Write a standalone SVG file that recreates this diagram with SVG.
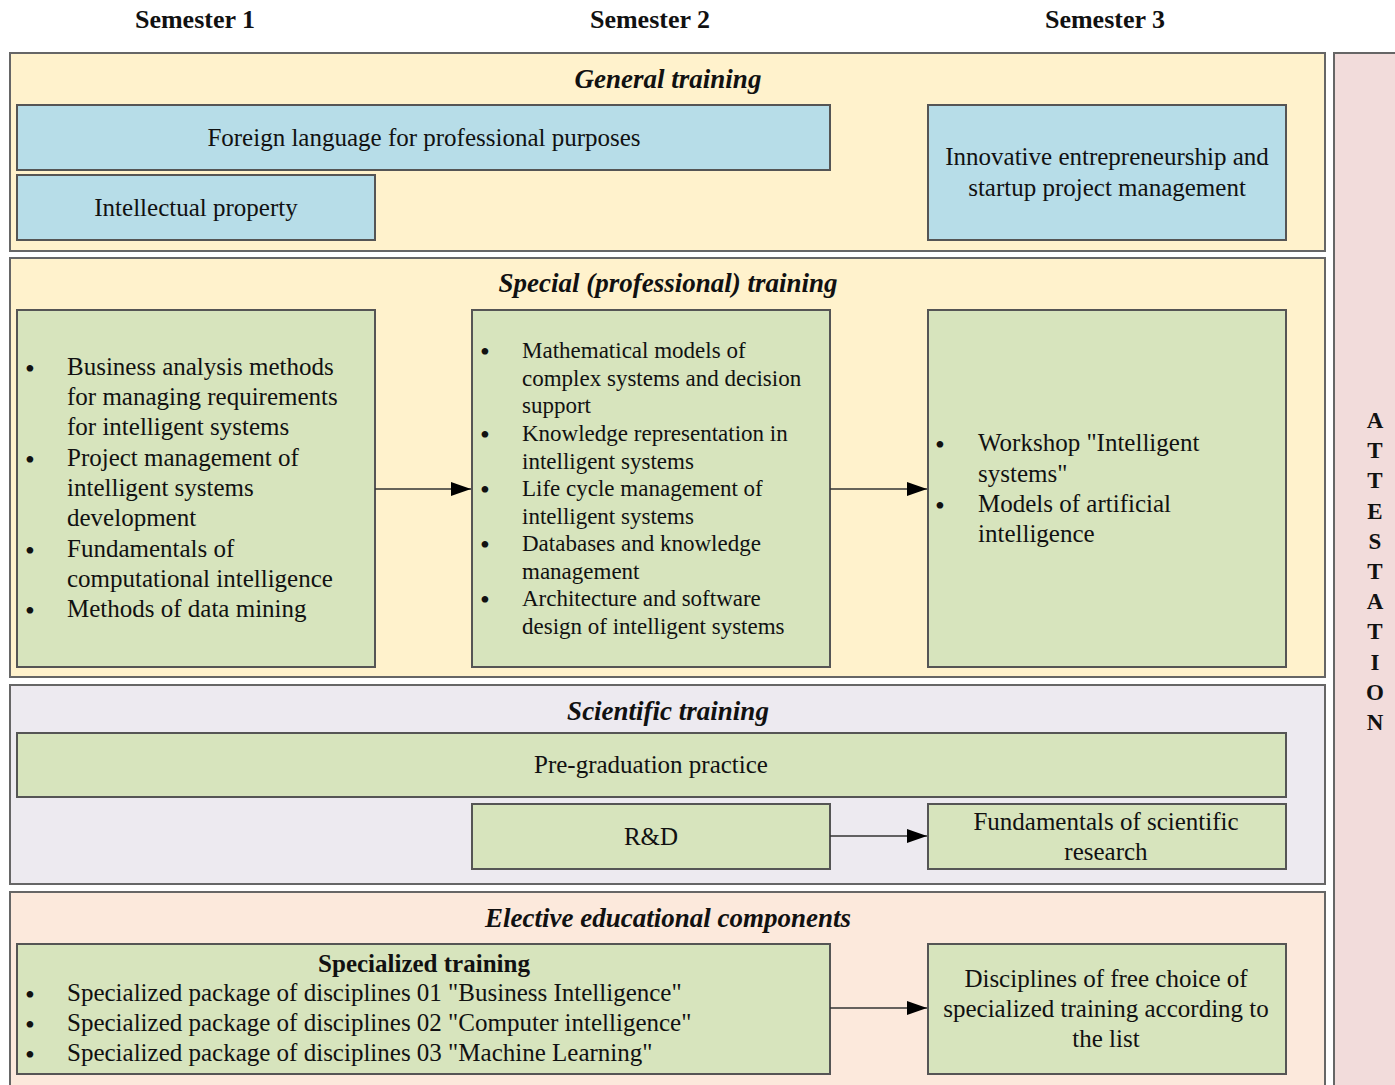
<svg xmlns="http://www.w3.org/2000/svg" width="1395" height="1085" viewBox="0 0 1395 1085">
<defs>
<style>
.t{font-family:"Liberation Serif","Times New Roman",serif;font-size:25px;fill:#111}
.s{font-size:23px}
.c{text-anchor:middle}
.b{font-family:"Liberation Serif","Times New Roman",serif;font-size:28px;fill:#111}
.h{font-family:"Liberation Serif","Times New Roman",serif;font-size:25px;font-weight:bold;fill:#111;text-anchor:middle}
.sem{font-size:26px}
.at{font-size:23px}
.ti{font-family:"Liberation Serif","Times New Roman",serif;font-size:27px;font-weight:bold;font-style:italic;fill:#111;text-anchor:middle}
.panel{stroke:#666;stroke-width:2}
.box{stroke:#555;stroke-width:2}
.blue{fill:#B7DDE8}
.green{fill:#D7E4BD}
.conn{stroke:#333;stroke-width:1.5;fill:none;marker-end:url(#ah)}
</style>
<marker id="ah" markerWidth="20" markerHeight="14" refX="20" refY="7" orient="auto" markerUnits="userSpaceOnUse" viewBox="0 0 20 14">
<path d="M0,0 L20,7 L0,14 z" fill="#000"/>
</marker>
</defs>
<rect width="1395" height="1085" fill="#fff"/>

<g id="semesters">
<text class="h sem" x="195" y="28">Semester 1</text>
<text class="h sem" x="650" y="28">Semester 2</text>
<text class="h sem" x="1105" y="28">Semester 3</text>
</g>

<g id="attestation">
<rect class="panel" x="1334" y="53" width="70" height="1040" fill="#F2DCDB"/>
<text class="h at" x="1375" y="428">A</text>
<text class="h at" x="1375" y="458">T</text>
<text class="h at" x="1375" y="488">T</text>
<text class="h at" x="1375" y="519">E</text>
<text class="h at" x="1375" y="549">S</text>
<text class="h at" x="1375" y="579">T</text>
<text class="h at" x="1375" y="609">A</text>
<text class="h at" x="1375" y="639">T</text>
<text class="h at" x="1375" y="670">I</text>
<text class="h at" x="1375" y="700">O</text>
<text class="h at" x="1375" y="730">N</text>
</g>

<g id="general-training">
<rect class="panel" x="10" y="53" width="1315" height="198" fill="#FFF2CC"/>
<text class="ti" x="668" y="88">General training</text>
</g>
<g id="foreign-language">
<rect class="box blue" x="17" y="105" width="813" height="65"/>
<text class="t c" x="424" y="146">Foreign language for professional purposes</text>
</g>
<g id="intellectual-property">
<rect class="box blue" x="17" y="175" width="358" height="65"/>
<text class="t c" x="196" y="216">Intellectual property</text>
</g>
<g id="innovative">
<rect class="box blue" x="928" y="105" width="358" height="135"/>
<text class="t c" x="1107" y="165">Innovative entrepreneurship and</text>
<text class="t c" x="1107" y="196">startup project management</text>
</g>

<g id="special-training">
<rect class="panel" x="10" y="258" width="1315" height="419" fill="#FFF2CC"/>
<text class="ti" x="668" y="292">Special (professional) training</text>
</g>
<g id="special-s1">
<rect class="box green" x="17" y="310" width="358" height="357"/>
<text class="b" x="25" y="378">•</text><text class="t" x="67" y="375">Business analysis methods</text>
<text class="t" x="67" y="405">for managing requirements</text>
<text class="t" x="67" y="435">for intelligent systems</text>
<text class="b" x="25" y="469">•</text><text class="t" x="67" y="466">Project management of</text>
<text class="t" x="67" y="496">intelligent systems</text>
<text class="t" x="67" y="526">development</text>
<text class="b" x="25" y="560">•</text><text class="t" x="67" y="557">Fundamentals of</text>
<text class="t" x="67" y="587">computational intelligence</text>
<text class="b" x="25" y="620">•</text><text class="t" x="67" y="617">Methods of data mining</text>
</g>
<g id="special-s2">
<rect class="box green" x="472" y="310" width="358" height="357"/>
<text class="b" x="480" y="361">•</text><text class="t s" x="522" y="358">Mathematical models of</text>
<text class="t s" x="522" y="386">complex systems and decision</text>
<text class="t s" x="522" y="413">support</text>
<text class="b" x="480" y="444">•</text><text class="t s" x="522" y="441">Knowledge representation in</text>
<text class="t s" x="522" y="469">intelligent systems</text>
<text class="b" x="480" y="499">•</text><text class="t s" x="522" y="496">Life cycle management of</text>
<text class="t s" x="522" y="524">intelligent systems</text>
<text class="b" x="480" y="554">•</text><text class="t s" x="522" y="551">Databases and knowledge</text>
<text class="t s" x="522" y="579">management</text>
<text class="b" x="480" y="609">•</text><text class="t s" x="522" y="606">Architecture and software</text>
<text class="t s" x="522" y="634">design of intelligent systems</text>
</g>
<g id="special-s3">
<rect class="box green" x="928" y="310" width="358" height="357"/>
<text class="b" x="935" y="454">•</text><text class="t" x="978" y="451">Workshop "Intelligent</text>
<text class="t" x="978" y="482">systems"</text>
<text class="b" x="935" y="515">•</text><text class="t" x="978" y="512">Models of artificial</text>
<text class="t" x="978" y="542">intelligence</text>
</g>

<g id="scientific-training">
<rect class="panel" x="10" y="685" width="1315" height="199" fill="#EDEAF0"/>
<text class="ti" x="668" y="720">Scientific training</text>
</g>
<g id="pre-graduation">
<rect class="box green" x="17" y="733" width="1269" height="64"/>
<text class="t c" x="651" y="773">Pre-graduation practice</text>
</g>
<g id="rnd">
<rect class="box green" x="472" y="804" width="358" height="65"/>
<text class="t c" x="651" y="845">R&amp;D</text>
</g>
<g id="fundamentals-research">
<rect class="box green" x="928" y="804" width="358" height="65"/>
<text class="t c" x="1106" y="830">Fundamentals of scientific</text>
<text class="t c" x="1106" y="860">research</text>
</g>

<g id="elective">
<rect class="panel" x="10" y="892" width="1315" height="200" fill="#FCE9DC"/>
<text class="ti" x="668" y="927">Elective educational components</text>
</g>
<g id="specialized-training">
<rect class="box green" x="17" y="944" width="813" height="130"/>
<text class="h" x="424" y="972">Specialized training</text>
<text class="b" x="25" y="1004">•</text><text class="t" x="67" y="1001">Specialized package of disciplines 01 "Business Intelligence"</text>
<text class="b" x="25" y="1034">•</text><text class="t" x="67" y="1031">Specialized package of disciplines 02 "Computer intelligence"</text>
<text class="b" x="25" y="1064">•</text><text class="t" x="67" y="1061">Specialized package of disciplines 03 "Machine Learning"</text>
</g>
<g id="free-choice">
<rect class="box green" x="928" y="944" width="358" height="130"/>
<text class="t c" x="1106" y="987">Disciplines of free choice of</text>
<text class="t c" x="1106" y="1017">specialized training according to</text>
<text class="t c" x="1106" y="1047">the list</text>
</g>

<g id="connectors">
<line class="conn" x1="375" y1="489" x2="471" y2="489"/>
<line class="conn" x1="830" y1="489" x2="927" y2="489"/>
<line class="conn" x1="830" y1="836" x2="927" y2="836"/>
<line class="conn" x1="830" y1="1008" x2="927" y2="1008"/>
</g>
</svg>
